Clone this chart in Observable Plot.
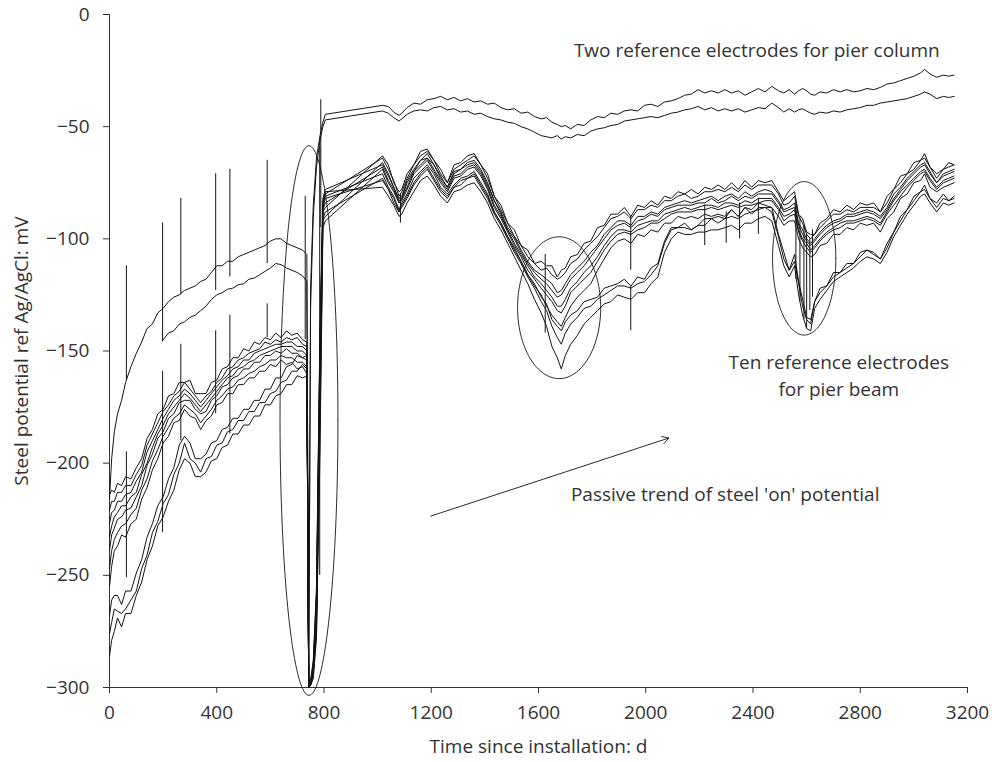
<!DOCTYPE html>
<html><head><meta charset="utf-8">
<script src="https://cdn.jsdelivr.net/npm/d3@7"></script>
<script src="https://cdn.jsdelivr.net/npm/@observablehq/plot@0.6"></script>
<style>body{margin:0;background:#fff;} svg{display:block}</style>
</head><body><div id="chart"></div>
<script>
// Time axis (days since installation) shared by all electrode series
const days = [
  0,8,18,30,45,60,80,100,120,140,
  160,180,200,220,240,260,280,300,320,340,
  360,380,400,420,440,460,480,500,520,540,
  560,580,600,620,640,660,680,700,720,736,
  743,750,760,772,785,796,805,
  1018,1040,1060,1080,1090,1110,1135,1160,1185,1210,
  1235,1260,1285,1310,1335,1360,1385,1410,1435,1460,
  1485,1510,1535,1560,1585,1610,1630,1650,1670,1685,
  1700,1720,1745,1770,1795,1820,1845,1870,1895,1920,
  1945,1970,1995,2020,2045,2070,2095,2120,2145,2170,
  2195,2220,2245,2270,2295,2320,2345,2370,2395,2420,
  2445,2470,2495,2515,2535,2555,2570,2585,2600,2615,
  2630,2650,2675,2700,2725,2750,2775,2800,2825,2850,
  2875,2900,2925,2950,2975,3000,3025,3040,3060,3085,
  3110,3130,3150
];

// Pier column electrodes (mV)
const column1 = [
  -216,-198,-186,-178,-172,-164,-157,-151,-146,-140,
  -138,-133,-131,-128,-126,-125,-123,-122,-121,-119,
  -118,-115,-112,-112,-110,-110,-108,-107,-106,-105,
  -104,-103,-101,-100,-100,-102,-103,-104,-105,-107,
  -299,-122,-85,-64,-54,-48,-44.5,
  -40.5,-41,-43.5,-45,-44,-41.5,-39.5,-40,-38,-37.5,
  -36.5,-38,-37,-38.5,-37.5,-39,-38.5,-40,-39.5,-41.5,
  -42.5,-42,-44,-43.5,-45.5,-46.5,-46,-48,-49,-50,
  -49.5,-51,-49,-49.5,-47,-45.5,-46,-44,-44.5,-43,
  -42.5,-43,-40.5,-40,-41,-39,-38.5,-37.5,-36,-35.5,
  -33.5,-35,-34,-35,-33.5,-35,-34,-36,-34.5,-33,
  -34.5,-32,-34,-35,-33.5,-35.5,-34,-33,-34,-35.5,
  -36,-34.5,-35,-33.5,-34.5,-33.5,-34.5,-34,-33,-33.5,
  -32.5,-31,-30.5,-29.5,-28.5,-27.5,-26,-24.5,-26.5,-28,
  -27,-27.5,-27
];
const column2 = [
  null,null,null,null,null,null,null,null,null,null,
  null,null,-145,-142,-141,-138,-137,-135,-134,-132,
  -130,-127,-125,-124,-122.5,-122,-120.5,-120,-118,-117.5,
  -116,-114.5,-113,-111,-111.5,-113,-114,-115,-116.5,-119,
  -300,-130,-90,-68,-56,-50,-47,
  -43,-44,-46,-47.5,-46.5,-44.5,-43,-42.5,-43,-41.5,
  -41,-42.5,-42,-43.5,-43,-44.5,-44,-45.5,-46.5,-47,
  -48,-48.5,-50,-51,-52.5,-54,-54.5,-55,-54,-55.5,
  -54.5,-55,-53.5,-54,-52,-51,-50.5,-49.5,-49,-47.5,
  -47,-46.5,-46,-45.5,-46,-45,-44,-43.5,-42.5,-42,
  -41,-42.5,-41.5,-43,-42,-43,-42,-43.5,-42.5,-41.5,
  -42,-39.5,-41.5,-43.5,-42,-43.5,-42.5,-42,-43,-44,
  -44.5,-43.5,-44,-43,-43.5,-42.5,-42,-41.5,-40.5,-40.5,
  -39.5,-39,-38.5,-38,-37.5,-36.5,-35.5,-34.5,-35.5,-37.5,
  -36.5,-37,-36.5
];

// Pier beam electrodes (mV)
const beam1 = [
  -214,-212,-213,-209,-210,-206,-207,-202,-198,-189,
  -185,-178,-176,-170,-169,-164,-164,-163,-169,-169,
  -169,-164,-163,-158,-157,-153,-153,-149,-150,-146,
  -147,-144,-145,-142,-144,-141,-143,-142,-145,-146,
  -300,-299,-294,-270,-170,-88,-86,
  -63,-67,-75,-79,-78,-71,-67,-61,-60,-65,
  -69,-75,-67,-66,-63,-62,-67,-71,-81,-85,
  -93,-96,-103,-105,-111,-110,-112,-112,-117,-114,
  -113,-108,-107,-102,-101,-95,-94,-89,-89,-86,
  -90,-85,-86,-83,-85,-81,-82,-79,-80,-78,
  -80,-77,-78,-76,-78,-75,-78,-74,-77,-74,
  -75,-74,-79,-83,-81,-79,-89,-91,-97,-98,
  -98,-93,-91,-87,-88,-85,-87,-84,-85,-84,
  -88,-81,-78,-72,-71,-66,-65,-62,-68,-71,
  -69,-66,-67
];
const beam2 = [
  -221,-217,-217,-213,-213,-210,-210,-205,-201,-192,
  -187,-182,-177,-174,-170,-168,-164,-167,-170,-173,
  -170,-168,-164,-162,-158,-157,-154,-153,-151,-150,
  -149,-146,-147,-145,-146,-144,-145,-144,-147,-148,
  -300,-298,-291,-262,-150,-84,-80,
  -64,-69,-74,-81,-79,-73,-67,-63,-61,-65,
  -71,-75,-69,-67,-65,-63,-67,-73,-81,-87,
  -93,-99,-103,-108,-111,-114,-113,-116,-118,-117,
  -115,-111,-109,-105,-102,-99,-95,-91,-90,-88,
  -91,-87,-87,-85,-86,-83,-83,-81,-80,-82,
  -81,-79,-79,-78,-79,-77,-79,-76,-78,-76,
  -76,-76,-80,-85,-84,-81,-90,-93,-98,-100,
  -98,-95,-92,-89,-89,-87,-88,-86,-86,-86,
  -88,-84,-78,-75,-71,-69,-65,-64,-68,-73,
  -69,-68,-67
];
const beam3 = [
  -227,-222,-221,-217,-217,-214,-213,-208,-204,-195,
  -190,-185,-180,-176,-172,-170,-167,-169,-172,-175,
  -172,-169,-166,-163,-161,-158,-157,-154,-154,-151,
  -150,-149,-148,-147,-147,-146,-146,-148,-148,-150,
  -300,-299,-295,-275,-185,-92,-90,
  -66,-71,-77,-82,-81,-74,-69,-65,-62,-67,
  -72,-77,-70,-69,-66,-65,-69,-75,-83,-88,
  -95,-99,-105,-110,-114,-116,-118,-120,-124,-123,
  -120,-116,-113,-110,-106,-103,-98,-95,-92,-92,
  -94,-90,-90,-88,-89,-86,-85,-84,-83,-84,
  -83,-82,-81,-83,-81,-80,-82,-79,-81,-79,
  -78,-79,-83,-87,-86,-84,-93,-96,-100,-102,
  -100,-97,-94,-92,-91,-89,-89,-88,-87,-88,
  -90,-86,-80,-77,-73,-70,-67,-66,-70,-75,
  -71,-70,-69
];
const beam4 = [
  -233,-228,-224,-222,-219,-219,-215,-213,-205,-200,
  -193,-187,-183,-178,-175,-172,-169,-171,-174,-177,
  -174,-171,-168,-165,-162,-161,-158,-157,-155,-154,
  -152,-151,-150,-149,-148,-148,-148,-150,-150,-152,
  -299,-297,-288,-255,-140,-82,-78,
  -67,-72,-77,-83,-82,-75,-70,-65,-64,-67,
  -73,-77,-71,-69,-67,-66,-70,-76,-83,-89,
  -96,-100,-106,-111,-115,-118,-120,-123,-126,-125,
  -122,-118,-115,-112,-108,-104,-100,-96,-94,-93,
  -95,-92,-91,-89,-90,-87,-86,-85,-85,-85,
  -84,-84,-82,-84,-83,-81,-83,-81,-82,-80,
  -80,-80,-84,-88,-87,-86,-94,-98,-101,-103,
  -101,-98,-95,-93,-92,-90,-90,-89,-88,-89,
  -91,-87,-82,-78,-74,-71,-68,-67,-71,-75,
  -72,-71,-70
];
const beam5 = [
  -239,-232,-229,-225,-224,-221,-220,-215,-210,-201,
  -196,-189,-186,-180,-178,-173,-172,-172,-176,-178,
  -177,-172,-170,-166,-165,-162,-161,-158,-158,-155,
  -155,-152,-152,-150,-151,-149,-151,-151,-153,-154,
  -300,-298,-293,-268,-160,-87,-84,
  -68,-74,-78,-84,-82,-77,-70,-67,-64,-69,
  -74,-78,-72,-71,-68,-67,-71,-77,-85,-90,
  -96,-102,-107,-112,-117,-120,-123,-126,-130,-130,
  -127,-122,-119,-115,-112,-108,-103,-99,-96,-96,
  -97,-94,-93,-92,-92,-89,-88,-87,-86,-87,
  -86,-85,-85,-86,-84,-84,-85,-83,-84,-82,
  -82,-82,-86,-90,-89,-87,-96,-100,-102,-105,
  -103,-100,-97,-95,-93,-92,-92,-91,-90,-91,
  -93,-88,-83,-79,-76,-73,-70,-69,-73,-77,
  -74,-73,-72
];
const beam6 = [
  -247,-239,-234,-231,-228,-227,-223,-220,-212,-207,
  -199,-194,-188,-184,-180,-178,-174,-176,-178,-182,
  -179,-176,-172,-170,-167,-166,-163,-162,-160,-159,
  -157,-156,-154,-154,-152,-153,-153,-155,-155,-157,
  -300,-299,-296,-278,-195,-95,-92,
  -69,-75,-79,-84,-83,-78,-71,-68,-65,-70,
  -75,-79,-73,-72,-69,-68,-72,-78,-86,-91,
  -97,-103,-108,-114,-118,-122,-125,-128,-132,-133,
  -130,-124,-121,-118,-115,-110,-105,-101,-98,-97,
  -98,-96,-95,-93,-93,-91,-89,-88,-88,-88,
  -87,-87,-86,-87,-86,-85,-86,-85,-85,-84,
  -83,-83,-87,-92,-90,-89,-97,-101,-104,-106,
  -104,-101,-98,-96,-95,-93,-93,-92,-91,-92,
  -94,-89,-85,-81,-77,-74,-71,-70,-74,-78,
  -75,-74,-73
];
const beam7 = [
  -255,-246,-239,-237,-232,-233,-227,-225,-216,-211,
  -203,-198,-191,-188,-182,-181,-176,-179,-180,-185,
  -181,-179,-174,-173,-169,-169,-165,-165,-162,-162,
  -159,-159,-156,-157,-154,-156,-155,-158,-157,-160,
  -299,-298,-290,-260,-145,-84,-81,
  -71,-77,-81,-87,-84,-80,-73,-70,-67,-71,
  -77,-80,-76,-73,-72,-70,-75,-80,-88,-93,
  -99,-104,-110,-116,-121,-125,-130,-134,-137,-139,
  -135,-130,-126,-123,-120,-114,-109,-104,-101,-100,
  -102,-98,-99,-96,-97,-93,-93,-90,-91,-90,
  -91,-89,-90,-89,-90,-87,-90,-86,-89,-86,
  -86,-86,-90,-94,-92,-92,-100,-104,-106,-108,
  -107,-103,-102,-98,-98,-95,-96,-93,-94,-93,
  -97,-91,-88,-82,-80,-75,-74,-71,-77,-79,
  -77,-76,-75
];
const beam8 = [
  -268,-261,-259,-259,-263,-257,-257,-249,-243,-233,
  -227,-219,-215,-207,-202,-192,-188,-191,-198,-198,
  -196,-191,-190,-185,-184,-180,-180,-176,-176,-172,
  -172,-167,-167,-162,-162,-157,-156,-152,-153,-152,
  -300,-299,-294,-272,-175,-91,-88,
  -73,-78,-82,-88,-85,-81,-75,-71,-68,-73,
  -78,-81,-77,-74,-73,-71,-76,-81,-88,-93,
  -99,-105,-110,-116,-120,-126,-129,-136,-139,-141,
  -137,-134,-132,-128,-127,-126,-122,-121,-120,-118,
  -121,-117,-118,-113,-111,-101,-95,-95,-93,-96,
  -94,-91,-91,-90,-91,-87,-90,-86,-87,-84,
  -85,-86,-98,-106,-114,-107,-119,-127,-135,-136,
  -128,-122,-121,-115,-115,-111,-111,-106,-105,-106,
  -109,-102,-97,-90,-87,-81,-79,-76,-82,-84,
  -80,-83,-81
];
const beam9 = [
  -276,-271,-265,-266,-267,-265,-261,-257,-247,-241,
  -231,-226,-218,-214,-205,-200,-191,-198,-200,-204,
  -198,-197,-192,-191,-186,-185,-181,-181,-177,-177,
  -173,-173,-169,-168,-164,-163,-159,-159,-156,-158,
  -300,-297,-289,-258,-148,-86,-82,
  -74,-78,-84,-88,-86,-82,-76,-72,-69,-74,
  -79,-82,-77,-76,-73,-72,-77,-82,-89,-94,
  -100,-106,-111,-117,-122,-128,-132,-139,-144,-147,
  -142,-138,-135,-131,-130,-127,-125,-123,-121,-121,
  -122,-120,-119,-116,-112,-102,-96,-95,-95,-96,
  -94,-94,-91,-93,-91,-90,-91,-89,-88,-87,
  -86,-88,-99,-109,-114,-110,-120,-130,-136,-138,
  -128,-124,-121,-117,-115,-113,-111,-108,-105,-107,
  -109,-104,-97,-92,-87,-83,-79,-78,-82,-86,
  -82,-83,-82
];
const beam10 = [
  -286,-279,-275,-269,-273,-267,-267,-259,-253,-243,
  -237,-228,-224,-217,-212,-203,-198,-200,-206,-206,
  -204,-199,-198,-193,-192,-187,-187,-183,-183,-179,
  -179,-174,-174,-170,-169,-165,-165,-161,-162,-161,
  -299,-298,-292,-265,-155,-83,-79,
  -77,-81,-85,-90,-89,-84,-79,-74,-72,-76,
  -81,-84,-79,-78,-76,-75,-79,-84,-91,-96,
  -102,-108,-114,-120,-127,-133,-139,-148,-153,-158,
  -152,-147,-143,-138,-135,-132,-129,-128,-125,-126,
  -127,-124,-124,-120,-117,-106,-100,-97,-98,-98,
  -97,-97,-96,-96,-95,-94,-96,-93,-93,-91,
  -90,-92,-103,-112,-117,-112,-125,-134,-140,-141,
  -131,-127,-123,-119,-117,-115,-113,-110,-108,-109,
  -111,-106,-99,-94,-89,-85,-81,-80,-84,-88,
  -84,-85,-84
];

// Short transient spikes in the readings (day, low end, high end)
const spikeDays = [63,63,198,198,266,266,396,396,449,449,588,588,730,788,784,1085,1625,1944,1944,2220,2300,2350,2420,2560,2575,2590,2600,2612,2622];
const spikeLow  = [-163,-251,-146,-231,-125,-190,-123,-178,-117,-187,-111,-144,-145,-95,-250,-93,-142,-114,-141,-103,-102,-100,-98,-118,-128,-136,-140,-132,-126];
const spikeHigh = [-112,-195,-93,-159,-82,-147,-71,-141,-69,-134,-65,-129,-81,-38,-59,-80,-107,-90,-121,-85,-88,-84,-82,-84,-90,-94,-98,-100,-96];

// Annotation ellipses (centre day, centre mV, half-width in days, half-height in mV)
const ellipseDay = [744, 1677, 2591];
const ellipseMid = [-181, -130.7, -108.7];
const ellipseRx  = [108, 155, 118];
const ellipseRy  = [122.5, 31.6, 34.2];

// Trend arrow (days, mV)
const arrowStart = [1198, -223.6];
const arrowEnd   = [2086, -188.8];

// Text annotations
const noteStartText = ["Two reference electrodes for pier column", "Passive trend of steel 'on' potential"];
const noteStartDay  = [1732, 1721];
const noteStartMv   = [-16.4, -214.1];
const noteMidText = ["Ten reference electrodes", "for pier beam"];
const noteMidDay  = [2720, 2720];
const noteMidMv   = [-155.4, -167.4];

const xTicks = [0, 400, 800, 1200, 1600, 2000, 2400, 2800, 3200];
const yTicks = [0, -50, -100, -150, -200, -250, -300];
const xTitle = "Time since installation: d";
const yTitle = "Steel potential ref Ag/AgCl: mV";

// ---- build tables ----
const seriesList = [
  ["column1", column1], ["column2", column2],
  ["beam1", beam1], ["beam2", beam2], ["beam3", beam3], ["beam4", beam4], ["beam5", beam5],
  ["beam6", beam6], ["beam7", beam7], ["beam8", beam8], ["beam9", beam9], ["beam10", beam10]
];
const rows = [];
for (const [id, vals] of seriesList) {
  if (vals.length !== days.length) throw new Error(id + " has " + vals.length + " values, expected " + days.length);
  vals.forEach((v, i) => rows.push({id, day: days[i], v}));
}
const spikes = spikeDays.map((d, i) => ({day: d, lo: spikeLow[i], hi: spikeHigh[i]}));
const ellipsePts = [];
ellipseDay.forEach((cx, k) => {
  for (let j = 0; j <= 144; j++) {
    const t = j / 144 * 2 * Math.PI;
    ellipsePts.push({k, day: cx + ellipseRx[k] * Math.cos(t), v: ellipseMid[k] + ellipseRy[k] * Math.sin(t)});
  }
});
const arrows = [{x1: arrowStart[0], y1: arrowStart[1], x2: arrowEnd[0], y2: arrowEnd[1]}];
const notesStart = noteStartText.map((t, i) => ({t, day: noteStartDay[i], v: noteStartMv[i]}));
const notesMid = noteMidText.map((t, i) => ({t, day: noteMidDay[i], v: noteMidMv[i]}));
const fmt = d => d < 0 ? "\u2212" + (-d) : String(d);

const ink = "#141414";
const textInk = "#333";

const chart = Plot.plot({
  width: 992, height: 762,
  marginLeft: 109, marginRight: 25, marginTop: 14, marginBottom: 75,
  style: {fontFamily: "'Open Sans', sans-serif", fontSize: "19px", color: textInk, background: "#fff"},
  x: {domain: [0, 3200]},
  y: {domain: [-300, 0]},
  marks: [
    Plot.axisX({ticks: xTicks, tickSize: 6, tickPadding: 12, tickFormat: fmt, label: null}),
    Plot.axisY({ticks: yTicks, tickSize: 6, tickPadding: 14, tickFormat: fmt, label: null}),
    Plot.ruleX([0], {stroke: textInk, strokeWidth: 1}),
    Plot.ruleY([-300], {stroke: textInk, strokeWidth: 1}),
    Plot.line(rows, {x: "day", y: "v", z: "id", stroke: ink, strokeWidth: 1}),
    Plot.ruleX(spikes, {x: "day", y1: "lo", y2: "hi", stroke: ink, strokeWidth: 1}),
    Plot.line(ellipsePts, {x: "day", y: "v", z: "k", stroke: ink, strokeWidth: 0.9}),
    Plot.arrow(arrows, {x1: "x1", y1: "y1", x2: "x2", y2: "y2", stroke: ink, strokeWidth: 0.9, headLength: 12}),
    Plot.text(notesStart, {x: "day", y: "v", text: "t", textAnchor: "start", fill: textInk, fontSize: 19}),
    Plot.text(notesMid, {x: "day", y: "v", text: "t", textAnchor: "middle", fill: textInk, fontSize: 19}),
    Plot.text([xTitle], {frameAnchor: "bottom", lineAnchor: "middle", textAnchor: "middle", dy: 59, fill: textInk, fontSize: 19}),
    Plot.text([yTitle], {frameAnchor: "left", lineAnchor: "middle", textAnchor: "middle", dx: -88, rotate: -90, fill: textInk, fontSize: 19})
  ]
});
document.getElementById("chart").appendChild(chart);
</script>
</body></html>
